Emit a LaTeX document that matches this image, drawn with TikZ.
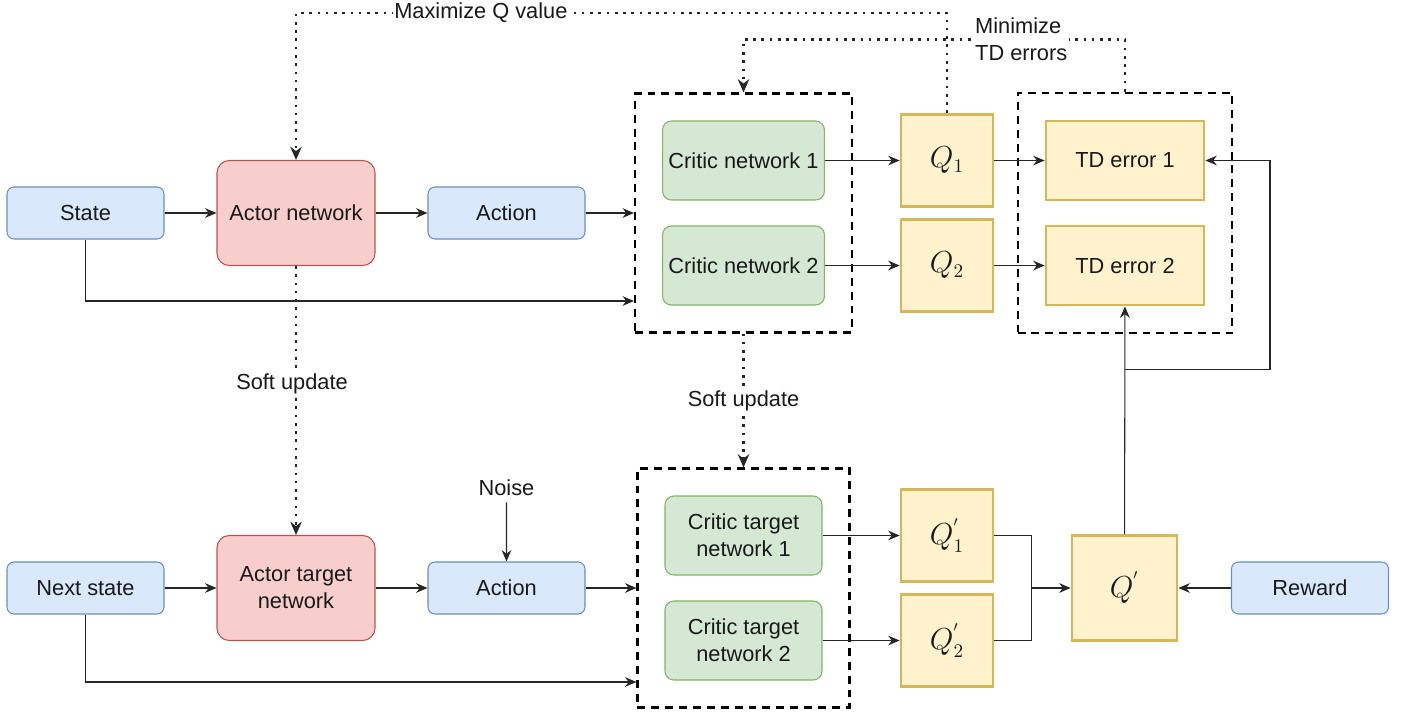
\documentclass[tikz,border=0pt]{standalone}
\usepackage{amsmath}
\usepackage{fontspec}
\setmainfont{Liberation Sans}
\usetikzlibrary{arrows.meta,positioning,fit}

\definecolor{inputfill}{HTML}{DAE8FC}
\definecolor{inputline}{HTML}{6C8EBF}
\definecolor{actorfill}{HTML}{F8CECC}
\definecolor{actorline}{HTML}{B85450}
\definecolor{criticfill}{HTML}{D5E8D4}
\definecolor{criticline}{HTML}{82B366}
\definecolor{valuefill}{HTML}{FFF2CC}
\definecolor{valueline}{HTML}{D6B656}

\begin{document}
\begin{tikzpicture}[->, >={Stealth[length=6.5pt,width=5.5pt]}, node distance=4.21cm, line width=0.6pt, draw=black!85,
    every node/.style={font=\fontsize{12.4}{15.3}\selectfont, text=black!90},
    input node/.style={draw=inputline, fill=inputfill, rounded corners=4pt, minimum width=3.14cm, minimum height=1.04cm},
    actor node/.style={draw=actorline, fill=actorfill, rounded corners=7pt, minimum width=3.16cm, minimum height=2.1cm, align=center},
    critic node/.style={draw=criticline, fill=criticfill, rounded corners=5pt, minimum width=3.14cm, minimum height=1.58cm, align=center},
    value node/.style={draw=valueline, fill=valuefill, line width=1.6pt, minimum size=1.84cm, font=\fontsize{16}{19}\selectfont},
    error node/.style={value node, minimum width=3.16cm, minimum height=1.58cm, font=\fontsize{12.4}{15.3}\selectfont},
    group box/.style={draw=black, dash pattern=on 4.5pt off 3.4pt, line width=1.2pt, inner sep=0.54cm},
    soft line/.style={dash pattern=on 1.5pt off 3.2pt, line width=1.5pt, -{Stealth[length=7.5pt,width=6.5pt]}},
    note/.style={fill=white, inner sep=1pt}]
        \useasboundingbox (-1.71,4.26) rectangle (26.49,-10.0);

        % top row
        \node[input node] (state) {State};
        \node[actor node] (actor) [right of=state] {Actor network};
        \node[input node] (action) [right of=actor] {Action};
        \node[critic node] (cn1) at (13.16,1.05) {Critic network 1};
        \node[critic node] (cn2) at (13.16,-1.05) {Critic network 2};
        \node[value node] (q1) at (17.23,1.05) {$Q_1$};
        \node[value node] (q2) at (17.23,-1.05) {$Q_2$};
        \node[error node] (td1) at (20.79,1.05) {TD error 1};
        \node[error node] (td2) at (20.79,-1.05) {TD error 2};
        \node[group box, fit=(cn1)(cn2)] (cbox) {};
        \node[group box, fit=(td1)(td2)] (tdbox) {};

        % target row
        \node[input node] (nstate) [below of=state, node distance=7.5cm] {Next state};
        \node[actor node] (actortgt) [right of=nstate] {Actor target\\network};
        \node[input node] (action2) [right of=actortgt] {Action};
        \node (noise) at (8.42,-5.5) {Noise};
        \node[critic node] (ct1) at (13.16,-6.45) {Critic target\\network 1};
        \node[critic node] (ct2) at (13.16,-8.55) {Critic target\\network 2};
        \node[value node] (qt1) at (17.23,-6.45) {$Q^{'}_{1}$};
        \node[value node] (qt2) at (17.23,-8.55) {$Q^{'}_{2}$};
        \node[value node, minimum size=2.1cm] (qp) at (20.78,-7.5) {$Q^{'}$};
        \node[input node] (reward) at (24.49,-7.5) {Reward};
        \node[group box, fit=(ct1)(ct2)] (ctbox) {};

        \path
        (state) edge (actor)
        (actor) edge (action)
        (cn1) edge (q1)
        (cn2) edge (q2)
        (q1) edge (td1)
        (q2) edge (td2)
        (nstate) edge (actortgt)
        (actortgt) edge (action2)
        (noise) edge (action2)
        (ct1) edge (qt1)
        (ct2) edge (qt2)
        (reward) edge (qp)
        (qp) edge (td2);

        \draw (action) -- (action -| cbox.west);
        \draw (state) |- ([yshift=-1.76cm]cbox.west);
        \draw (action2) -- (action2 -| ctbox.west);
        \draw (nstate) |- ([yshift=-1.88cm]ctbox.west);

        \coordinate[left=0.78cm of qp.west] (merge);
        \draw[-] (qt1) -| (merge);
        \draw[-] (qt2) -| (merge);
        \draw (merge) -- (qp);

        \coordinate[below=1.26cm of td2.south] (split);
        \draw (split) -- ++(2.9,0) |- (td1);

        % dotted feedback
        \draw[soft line] (actor) -- node[note, pos=0.44, xshift=-0.08cm] {Soft update} (actortgt);
        \draw[soft line] (cbox) -- node[note] {Soft update} (ctbox);
        \draw[soft line] (q1.north) -- ++(0,2) -| node[note, pos=0.358] {Maximize Q value} (actor);
        \draw[soft line] (tdbox.north) -- ++(0,1.04) -| node[note, pos=0.136, align=left] {Minimize\\TD errors} (cbox.north);

    \end{tikzpicture}
\end{document}
